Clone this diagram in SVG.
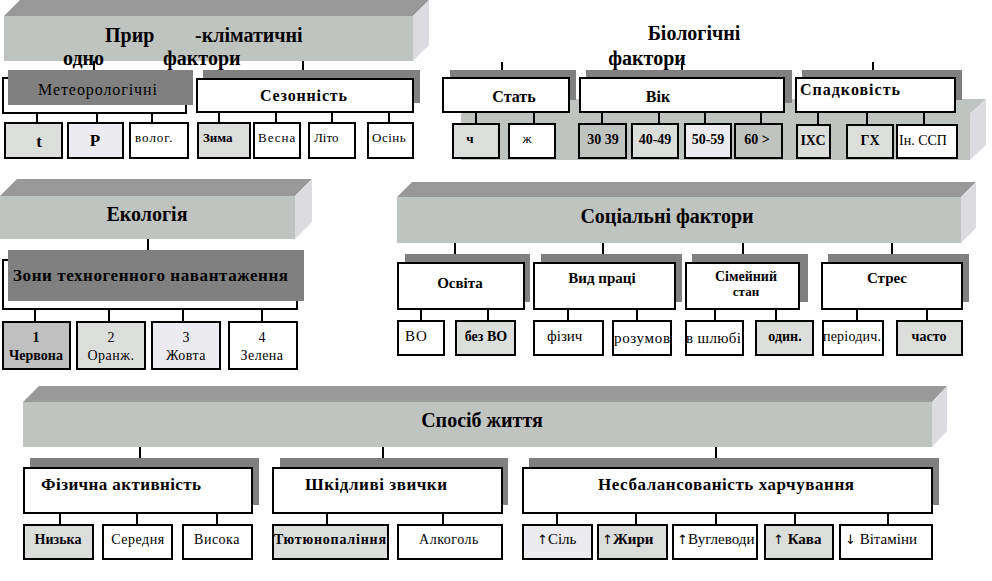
<svg xmlns="http://www.w3.org/2000/svg" width="992" height="581" viewBox="0 0 992 581">
<style>
.bg{fill:#fff}
.front{fill:#c0c4c0}
.top{fill:#999}
.side{fill:#dcdce0}
.band{fill:#c0c4c0}
.sh{fill:#808080}
.box{stroke:#000;stroke-width:2;fill:#fff}
.f1{fill:#dcdedc}
.f2{fill:#c0c4c0}
.f3{fill:#ecebef}
.f4{fill:#c0c0c0}
.conn line{stroke:#000;stroke-width:2}
text{font-family:"Liberation Serif","DejaVu Serif",serif;fill:#000}
.ar{font-family:"DejaVu Sans",sans-serif;font-weight:normal;fill:#000}
.b{font-weight:bold}
.big{font-size:20px;font-weight:bold}
.mid{font-size:15px;font-weight:bold}
.mid2{font-size:17px;font-weight:bold}
.sm{font-size:13px}
.c{text-anchor:middle}
</style>
<rect class="bg" x="0" y="0" width="992" height="581"/>

<!-- Природно-кліматичні -->
<g id="climate">
<polygon class="top" points="4,16 20,0 429,0 413,16"/>
<rect class="front" x="4" y="16" width="409" height="45"/>
<polygon class="side" points="413,16 429,0 429,45 413,61"/>
<text class="big" x="105" y="42">Прир</text>
<text class="big" x="195" y="42">-кліматичні</text>
<text class="big" x="63" y="65">одно</text>
<text class="big" x="163" y="65">фактори</text>
</g>
<g id="meteo">
<rect class="box" x="3" y="78" width="183" height="35"/>
<rect class="sh" x="8" y="70" width="185" height="35"/>
<text x="38" y="95" font-size="16" textLength="119">Метеорологічні</text>
</g>
<g id="season">
<rect class="sh" x="203" y="70" width="217" height="33"/>
<rect class="box" x="197" y="79" width="216" height="33"/>
<text class="b" x="260" y="101" font-size="16" textLength="87">Сезонність</text>
</g>
<g id="t"><rect class="box f1" x="5" y="123" width="57" height="35"/><text class="b c" x="39" y="147" font-size="17">t</text></g>
<g id="p"><rect class="box f3" x="68" y="123" width="55" height="35"/><text class="b c" x="95" y="146" font-size="17">P</text></g>
<g id="volog"><rect class="box" x="130" y="123" width="58" height="35"/><text class="sm" x="135" y="142" letter-spacing="1">волог.</text></g>
<g id="zyma"><rect class="box f1" x="198" y="123" width="52" height="35"/><text class="b" x="203" y="142" font-size="13">Зима</text></g>
<g id="vesna"><rect class="box" x="254" y="123" width="46" height="35"/><text class="sm" x="258" y="142" letter-spacing="1">Весна</text></g>
<g id="lito"><rect class="box" x="309" y="123" width="46" height="35"/><text class="sm" x="314" y="142">Літо</text></g>
<g id="osin"><rect class="box" x="368" y="123" width="45" height="35"/><text class="sm" x="372" y="142" letter-spacing="0.5">Осінь</text></g>

<!-- Біологічні -->
<g id="bio">
<polygon class="band" points="461,114 477,99 986,99 970,114"/>
<rect class="band" x="461" y="114" width="509" height="46"/>
<polygon class="side" points="970,114 986,99 986,145 970,160"/>
<text class="big c" x="694" y="40">Біологічні</text>
<text class="big c" x="647" y="65">фактори</text>
</g>
<g id="stat">
<rect class="sh" x="450" y="70" width="126" height="30"/>
<rect class="box" x="443" y="78" width="126" height="34"/>
<text class="b c" x="514" y="102" font-size="16">Стать</text>
</g>
<g id="vik">
<rect class="sh" x="586" y="70" width="206" height="33"/>
<rect class="box" x="580" y="78" width="204" height="34"/>
<text class="b c" x="658" y="102" font-size="16">Вік</text>
</g>
<g id="spadk">
<rect class="sh" x="802" y="70" width="160" height="30"/>
<rect class="box" x="796" y="78" width="159" height="34"/>
<text class="b" x="800" y="95" font-size="16" textLength="100">Спадковість</text>
</g>
<g id="ch"><rect class="box f1" x="453" y="124" width="46" height="34"/><text class="b c" x="470" y="143" font-size="13">ч</text></g>
<g id="zh"><rect class="box" x="509" y="124" width="46" height="34"/><text class="c" x="527" y="143" font-size="13">ж</text></g>
<g id="a30"><rect class="box f2" x="579" y="124" width="47" height="34"/><text class="b c" x="603" y="144" font-size="14">30 39</text></g>
<g id="a40"><rect class="box f1" x="632" y="124" width="46" height="34"/><text class="b c" x="655" y="144" font-size="14">40-49</text></g>
<g id="a50"><rect class="box f3" x="685" y="124" width="46" height="34"/><text class="b c" x="708" y="144" font-size="14">50-59</text></g>
<g id="a60"><rect class="box f2" x="735" y="124" width="47" height="34"/><text class="b c" x="757" y="144" font-size="14">60 &gt;</text></g>
<g id="ixc"><rect class="box f1" x="797" y="125" width="33" height="33"/><text class="b c" x="813" y="145" font-size="14">ІХС</text></g>
<g id="gx"><rect class="box f1" x="847" y="125" width="46" height="33"/><text class="b c" x="870" y="145" font-size="14">ГХ</text></g>
<g id="inssp"><rect class="box" x="897" y="125" width="60" height="33"/><text x="899" y="145" font-size="14">Ін. ССП</text></g>

<!-- Екологія -->
<g id="ecology">
<polygon class="top" points="0,196 17,179 312,179 295,196"/>
<rect class="front" x="0" y="196" width="295" height="43"/>
<polygon class="side" points="295,196 312,179 312,222 295,239"/>
<text class="big c" x="147" y="221">Екологія</text>
</g>
<g id="zones">
<rect class="box" x="3" y="260" width="294" height="49"/>
<rect class="sh" x="8" y="250" width="296" height="51"/>
<text class="b" x="13" y="281" font-size="17" textLength="275">Зони техногенного навантаження</text>
</g>
<g id="z1"><rect class="box f4" x="3" y="322" width="67" height="47"/><text class="b c" x="36" y="342" font-size="14">1</text><text class="b c" x="36" y="360" font-size="14">Червона</text></g>
<g id="z2"><rect class="box f1" x="77" y="322" width="68" height="47"/><text class="c" x="111" y="342" font-size="14">2</text><text class="c" x="111" y="360" font-size="14" letter-spacing="0.5">Оранж.</text></g>
<g id="z3"><rect class="box f3" x="152" y="322" width="68" height="47"/><text class="c" x="186" y="342" font-size="14">3</text><text class="c" x="186" y="360" font-size="14" letter-spacing="0.5">Жовта</text></g>
<g id="z4"><rect class="box" x="229" y="322" width="68" height="47"/><text class="c" x="262" y="342" font-size="14">4</text><text class="c" x="262" y="360" font-size="14" letter-spacing="0.5">Зелена</text></g>

<!-- Соціальні -->
<g id="social">
<polygon class="top" points="397,197 412,182 976,182 961,197"/>
<rect class="front" x="397" y="197" width="564" height="46"/>
<polygon class="side" points="961,197 976,182 976,228 961,243"/>
<text class="big c" x="667" y="223">Соціальні фактори</text>
</g>
<g id="osvita">
<rect class="sh" x="405" y="254" width="125" height="48"/>
<rect class="box" x="398" y="263" width="126" height="46"/>
<text class="mid c" x="460" y="288">Освіта</text>
</g>
<g id="vydpraci">
<rect class="sh" x="541" y="254" width="141" height="48"/>
<rect class="box" x="534" y="263" width="141" height="46"/>
<text class="mid c" x="602" y="283">Вид праці</text>
</g>
<g id="simstan">
<rect class="sh" x="692" y="254" width="116" height="48"/>
<rect class="box" x="686" y="263" width="113" height="46"/>
<text class="b c" x="746" y="281" font-size="14">Сімейний</text>
<text class="b c" x="746" y="296" font-size="13">стан</text>
</g>
<g id="stres">
<rect class="sh" x="828" y="254" width="141" height="48"/>
<rect class="box" x="822" y="263" width="140" height="46"/>
<text class="mid c" x="887" y="283">Стрес</text>
</g>
<g id="vo"><rect class="box" x="398" y="321" width="46" height="34"/><text x="405" y="341" font-size="15" letter-spacing="1">ВО</text></g>
<g id="bezvo"><rect class="box f1" x="456" y="321" width="59" height="34"/><text class="b c" x="486" y="341" font-size="14">без ВО</text></g>
<g id="fizych"><rect class="box" x="534" y="321" width="69" height="34"/><text x="547" y="341" font-size="15">фізич</text></g>
<g id="rozumov"><rect class="box" x="613" y="321" width="58" height="34"/><text x="614" y="343" font-size="15" textLength="56">розумов</text></g>
<g id="shlyub"><rect class="box" x="686" y="321" width="57" height="34"/><text x="686" y="343" font-size="15" textLength="55">в шлюбі</text></g>
<g id="odyn"><rect class="box f1" x="756" y="321" width="57" height="34"/><text class="b c" x="785" y="341" font-size="14">один.</text></g>
<g id="period"><rect class="box" x="823" y="321" width="60" height="34"/><text x="823" y="341" font-size="14" textLength="58">періодич.</text></g>
<g id="chasto"><rect class="box f1" x="897" y="321" width="65" height="34"/><text class="b c" x="929" y="341" font-size="14">часто</text></g>

<!-- Спосіб життя -->
<g id="life">
<polygon class="top" points="23,402 39,386 947,386 932,402"/>
<rect class="front" x="23" y="402" width="909" height="45"/>
<polygon class="side" points="932,402 947,386 947,431 932,447"/>
<text class="big c" x="482" y="427">Спосіб життя</text>
</g>
<g id="fizakt">
<rect class="sh" x="30" y="458" width="229" height="47"/>
<rect class="box" x="24" y="468" width="228" height="45"/>
<text class="mid2" x="41" y="490" textLength="160">Фізична активність</text>
</g>
<g id="shkidl">
<rect class="sh" x="280" y="458" width="228" height="47"/>
<rect class="box" x="273" y="468" width="229" height="45"/>
<text class="mid2" x="305" y="490" textLength="142">Шкідливі звички</text>
</g>
<g id="nesbal">
<rect class="sh" x="529" y="458" width="410" height="47"/>
<rect class="box" x="523" y="468" width="409" height="45"/>
<text class="mid2 c" x="726" y="490" textLength="256">Несбалансованість харчування</text>
</g>
<g id="nyzka"><rect class="box f1" x="24" y="525" width="69" height="34"/><text class="b c" x="58" y="544" font-size="14">Низька</text></g>
<g id="serednya"><rect class="box" x="103" y="525" width="69" height="34"/><text class="c" x="138" y="544" font-size="14" letter-spacing="0.5">Середня</text></g>
<g id="vysoka"><rect class="box" x="183" y="525" width="69" height="34"/><text class="c" x="217" y="544" font-size="14" letter-spacing="0.5">Висока</text></g>
<g id="tyutyun"><rect class="box f1" x="273" y="525" width="115" height="34"/><text class="b c" x="330" y="544" font-size="14" textLength="112">Тютюнопаління</text></g>
<g id="alko"><rect class="box" x="398" y="525" width="104" height="34"/><text class="c" x="449" y="544" font-size="14" letter-spacing="0.5">Алкоголь</text></g>
<g id="sil"><rect class="box f3" x="523" y="525" width="69" height="34"/><text x="537" y="544" font-size="15"><tspan class="ar" font-size="13">↑</tspan>Сіль</text></g>
<g id="zhyry"><rect class="box f1" x="598" y="525" width="69" height="34"/><text class="b" x="602" y="544" font-size="15"><tspan class="ar" font-size="13">↑</tspan>Жири</text></g>
<g id="vuhl"><rect class="box" x="673" y="525" width="84" height="34"/><text x="677" y="544" font-size="15"><tspan class="ar" font-size="13">↑</tspan>Вуглеводи</text></g>
<g id="kava"><rect class="box f1" x="765" y="525" width="68" height="34"/><text class="b" x="773" y="544" font-size="15"><tspan class="ar" font-size="13">↑</tspan> Кава</text></g>
<g id="vitam"><rect class="box" x="840" y="525" width="92" height="34"/><text x="845" y="544" font-size="15"><tspan class="ar" font-size="13">↓</tspan> Вітаміни</text></g>

<g class="conn" id="connectors">
<line x1="94" y1="61" x2="94" y2="70"/>
<line x1="303" y1="61" x2="303" y2="70"/>
<line x1="37" y1="113" x2="37" y2="123"/>
<line x1="97" y1="113" x2="97" y2="123"/>
<line x1="152" y1="113" x2="152" y2="123"/>
<line x1="219" y1="112" x2="219" y2="123"/>
<line x1="276" y1="112" x2="276" y2="123"/>
<line x1="332" y1="112" x2="332" y2="123"/>
<line x1="389" y1="112" x2="389" y2="123"/>
<line x1="502" y1="62" x2="502" y2="70"/>
<line x1="682" y1="62" x2="682" y2="70"/>
<line x1="873" y1="62" x2="873" y2="70"/>
<line x1="476" y1="112" x2="476" y2="124"/>
<line x1="534" y1="112" x2="534" y2="124"/>
<line x1="602" y1="112" x2="602" y2="124"/>
<line x1="659" y1="112" x2="659" y2="124"/>
<line x1="705" y1="112" x2="705" y2="124"/>
<line x1="761" y1="112" x2="761" y2="124"/>
<line x1="818" y1="112" x2="818" y2="125"/>
<line x1="867" y1="112" x2="867" y2="125"/>
<line x1="924" y1="112" x2="924" y2="125"/>
<line x1="148" y1="239" x2="148" y2="250"/>
<line x1="35" y1="309" x2="35" y2="322"/>
<line x1="109" y1="309" x2="109" y2="322"/>
<line x1="183" y1="309" x2="183" y2="322"/>
<line x1="262" y1="309" x2="262" y2="322"/>
<line x1="455" y1="243" x2="455" y2="254"/>
<line x1="603" y1="243" x2="603" y2="254"/>
<line x1="743" y1="243" x2="743" y2="254"/>
<line x1="892" y1="243" x2="892" y2="254"/>
<line x1="421" y1="309" x2="421" y2="321"/>
<line x1="488" y1="309" x2="488" y2="321"/>
<line x1="568" y1="309" x2="568" y2="321"/>
<line x1="637" y1="309" x2="637" y2="321"/>
<line x1="715" y1="309" x2="715" y2="321"/>
<line x1="776" y1="309" x2="776" y2="321"/>
<line x1="857" y1="309" x2="857" y2="321"/>
<line x1="927" y1="309" x2="927" y2="321"/>
<line x1="140" y1="447" x2="140" y2="458"/>
<line x1="383" y1="447" x2="383" y2="458"/>
<line x1="716" y1="447" x2="716" y2="458"/>
<line x1="60" y1="513" x2="60" y2="525"/>
<line x1="137" y1="513" x2="137" y2="525"/>
<line x1="217" y1="513" x2="217" y2="525"/>
<line x1="327" y1="513" x2="327" y2="525"/>
<line x1="443" y1="513" x2="443" y2="525"/>
<line x1="557" y1="513" x2="557" y2="525"/>
<line x1="636" y1="513" x2="636" y2="525"/>
<line x1="716" y1="513" x2="716" y2="525"/>
<line x1="795" y1="513" x2="795" y2="525"/>
<line x1="888" y1="513" x2="888" y2="525"/>
</g>
</svg>
